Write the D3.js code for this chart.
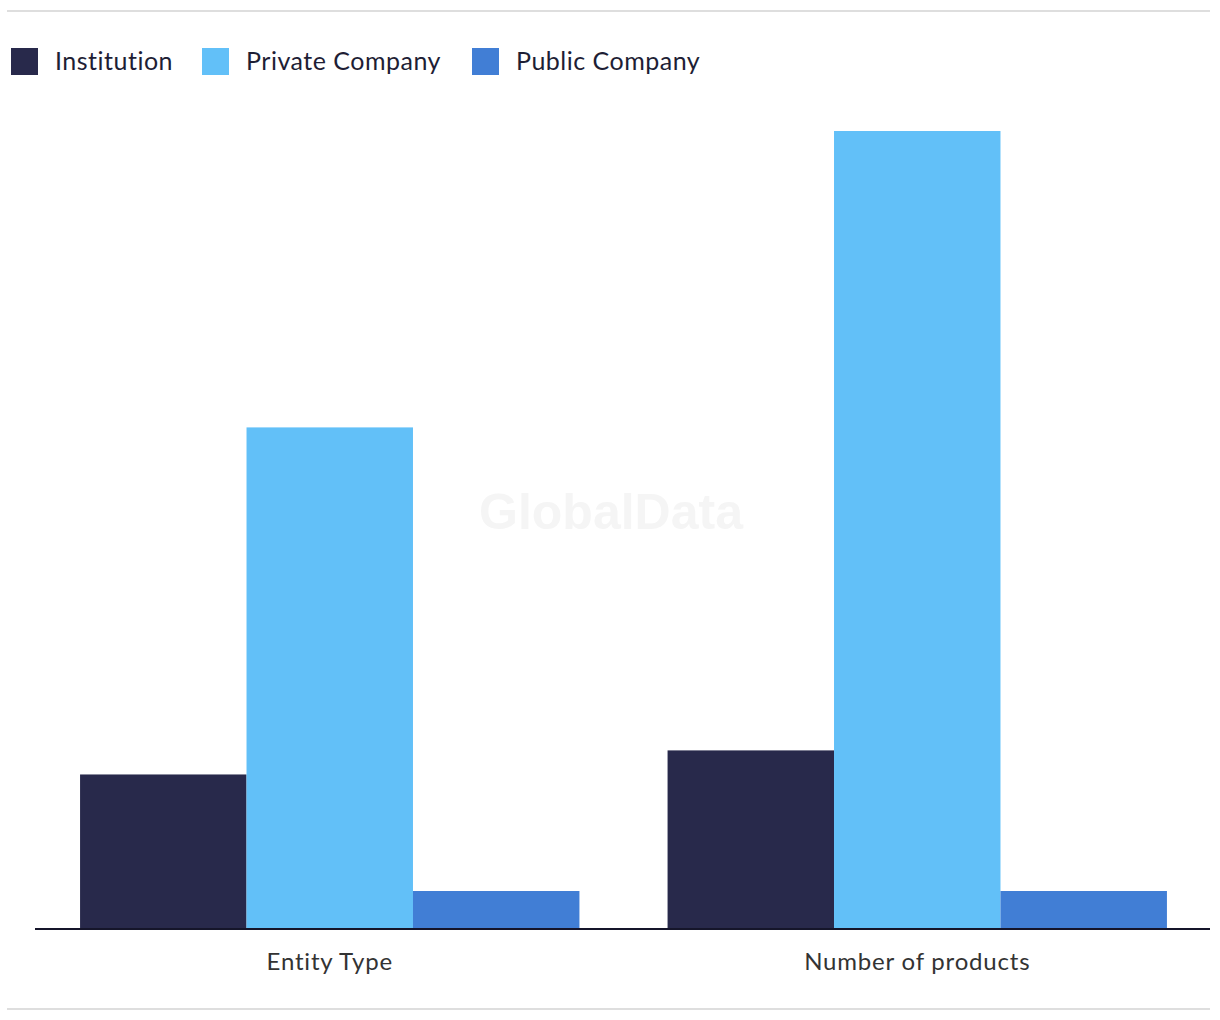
<!DOCTYPE html>
<html><head><meta charset="utf-8">
<script src="https://cdn.jsdelivr.net/npm/d3@7"></script>
<style>body{margin:0;background:#fff}svg{display:block}</style>
</head><body>
<svg id="c" width="1220" height="1020"></svg>
<script>
const categories = ["Entity Type", "Number of products"];
const seriesNames = ["Institution", "Private Company", "Public Company"];
const institution = [12.2, 14.1];
const privateCompany = [39.6, 63];
const publicCompany = [3, 3];
const colors = ["#28294b", "#62c0f8", "#417ed5"];

const seriesValues = [institution, privateCompany, publicCompany];
const data = categories.map((c, i) => ({cat: c, vals: seriesNames.map((s, j) => ({s, v: seriesValues[j][i]}))}));

const svg = d3.select("#c");
const font = "Lato, 'Open Sans', sans-serif";

// frame lines
svg.append("line").attr("x1", 7).attr("x2", 1210).attr("y1", 11).attr("y2", 11).attr("stroke", "#dedede").attr("stroke-width", 2);
svg.append("line").attr("x1", 7).attr("x2", 1210).attr("y1", 1009).attr("y2", 1009).attr("stroke", "#dedede").attr("stroke-width", 2);

// watermark
svg.append("text").attr("x", 611).attr("y", 529).attr("text-anchor", "middle")
  .attr("font-family", "'Liberation Sans', Arial, sans-serif").attr("font-weight", "bold").attr("font-size", 50)
  .attr("fill", "#f5f5f5").text("GlobalData");

const x0 = d3.scaleBand().domain(categories).range([36, 1211]).padding(0);
const bw = x0.bandwidth();
const x1 = d3.scaleBand().domain(seriesNames).range([bw * 0.075, bw * 0.925]).padding(0);
const y = d3.scaleLinear().domain([0, 63]).range([929, 131]);
const color = d3.scaleOrdinal().domain(seriesNames).range(colors);

const g = svg.append("g").selectAll("g").data(data).join("g").attr("transform", d => `translate(${x0(d.cat)},0)`);
g.selectAll("rect").data(d => d.vals).join("rect")
  .attr("x", d => x1(d.s)).attr("width", x1.bandwidth())
  .attr("y", d => y(d.v)).attr("height", d => y(0) - y(d.v))
  .attr("fill", d => color(d.s));

const xAxis = svg.append("g").attr("transform", "translate(0,929)").call(d3.axisBottom(x0).tickSize(0).tickPadding(0));
xAxis.select(".domain").attr("stroke", "#15152a").attr("stroke-width", 2).attr("d", "M35,0H1210");
xAxis.selectAll("text").attr("font-family", font).attr("font-size", 24).attr("letter-spacing", 0.8)
  .attr("fill", "#333").attr("dy", 0).attr("y", 41);

// legend
const legendX = [11, 202, 472];
const lg = svg.append("g").selectAll("g").data(seriesNames).join("g").attr("transform", (d, i) => `translate(${legendX[i]},48)`);
lg.append("rect").attr("width", 27).attr("height", 27).attr("fill", d => color(d));
lg.append("text").attr("x", 44).attr("y", 22).attr("font-family", font).attr("font-size", 25).attr("letter-spacing", 0.5)
  .attr("fill", "#1e1e35").text(d => d);
</script>
</body></html>
